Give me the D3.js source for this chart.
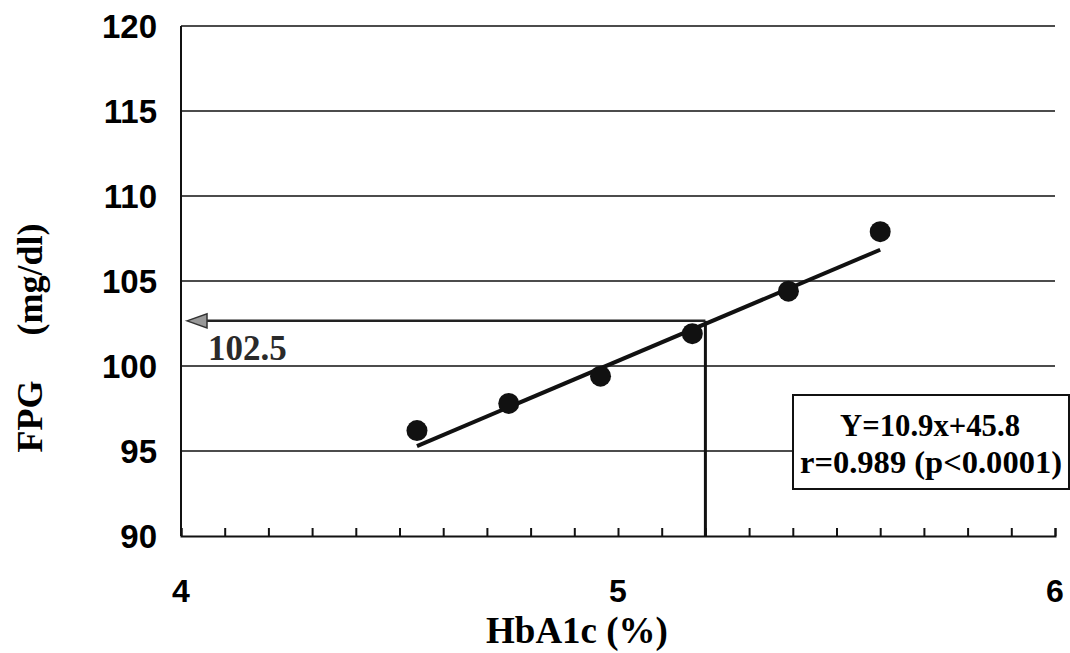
<!DOCTYPE html>
<html>
<head>
<meta charset="utf-8">
<script src="https://cdn.jsdelivr.net/npm/d3@7"></script>
<style>
body{margin:0;background:#fff;}
svg{display:block;}
</style>
</head>
<body>
<div class="chart"></div>
<script>
// data
const hba1c = [4.54, 4.75, 4.96, 5.17, 5.39, 5.60];
const fpg = [96.2, 97.8, 99.4, 101.9, 104.4, 107.9];
const yTicks = [90, 95, 100, 105, 110, 115, 120];
const xTicks = [4, 5, 6];
const fitSlope = 10.9;
const fitIntercept = 45.8;
const fitRange = [4.54, 5.60];
const readX = 5.2;
const readLabel = '102.5';
const boxLines = ['Y=10.9x+45.8', 'r=0.989 (p<0.0001)'];

const width = 1070, height = 653;
const margin = {top:26, right:15, bottom:117, left:181};

const svg = d3.select('.chart').append('svg')
    .attr('width', width).attr('height', height);

const xScale = d3.scaleLinear([4, 6], [margin.left, width - margin.right]);
const yScale = d3.scaleLinear([90, 120], [height - margin.bottom, margin.top]);

// gridlines
svg.append('g').selectAll('line').data(yTicks.filter(d => d > 90)).join('line')
    .attr('x1', xScale(4)).attr('x2', xScale(6))
    .attr('y1', d => yScale(d)).attr('y2', d => yScale(d))
    .attr('stroke', '#111').attr('stroke-width', 1.5);

// left axis line
svg.append('line')
    .attr('x1', xScale(4)).attr('x2', xScale(4))
    .attr('y1', yScale(90)).attr('y2', yScale(120))
    .attr('stroke', '#111').attr('stroke-width', 2);

// bottom axis with minor ticks
const xAxis = d3.axisBottom(xScale).tickValues(d3.range(40, 61).map(d => d / 10))
    .tickSize(-8).tickFormat('');
const xAxisDraw = svg.append('g').attr('transform', `translate(0,${yScale(90)})`).call(xAxis);
xAxisDraw.select('.domain').attr('stroke', '#111').attr('stroke-width', 2);
xAxisDraw.selectAll('.tick line').attr('stroke', '#111').attr('stroke-width', 2);

// y tick labels
svg.append('g').selectAll('text').data(yTicks).join('text')
    .attr('x', 157).attr('y', d => yScale(d))
    .attr('dy', '0.36em').attr('text-anchor', 'end')
    .style('font-family', 'Liberation Sans, Arial, sans-serif')
    .style('font-weight', 'bold').style('font-size', '33px')
    .text(d => d);

// x tick labels
svg.append('g').selectAll('text').data(xTicks).join('text')
    .attr('x', d => xScale(d)).attr('y', 590)
    .attr('dy', '0.36em').attr('text-anchor', 'middle')
    .style('font-family', 'Liberation Sans, Arial, sans-serif')
    .style('font-weight', 'bold').style('font-size', '32px')
    .text(d => d);

// axis titles
svg.append('text').attr('x', 577).attr('y', 643)
    .attr('text-anchor', 'middle')
    .style('font-family', 'Liberation Serif, Times New Roman, serif')
    .style('font-weight', 'bold').style('font-size', '37px')
    .text('HbA1c (%)');

svg.append('text')
    .attr('transform', `translate(42,338) rotate(-90)`)
    .attr('text-anchor', 'middle')
    .style('font-family', 'Liberation Serif, Times New Roman, serif')
    .style('font-weight', 'bold').style('font-size', '36px')
    .style('white-space', 'pre')
    .text('FPG     (mg/dl)');

// reading lines
const readY = fitSlope * readX + fitIntercept;
svg.append('line')
    .attr('x1', xScale(readX)).attr('x2', xScale(readX))
    .attr('y1', yScale(readY) - 3).attr('y2', yScale(90))
    .attr('stroke', '#111').attr('stroke-width', 3);
svg.append('line')
    .attr('x1', xScale(4) + 24).attr('x2', xScale(readX))
    .attr('y1', yScale(readY) - 3).attr('y2', yScale(readY) - 3)
    .attr('stroke', '#222').attr('stroke-width', 2.5);
const ax = xScale(4) + 6, ay = yScale(readY) - 3;
svg.append('path')
    .attr('d', `M${ax},${ay} L${ax + 20},${ay - 7} L${ax + 20},${ay + 7} Z`)
    .attr('fill', '#999').attr('stroke', '#333').attr('stroke-width', 1.5);
svg.append('text').attr('x', 208).attr('y', 360)
    .style('font-family', 'Liberation Serif, Times New Roman, serif')
    .style('font-weight', 'bold').style('font-size', '35px').style('fill', '#2a2a2a')
    .text(readLabel);

// regression line
svg.append('line')
    .attr('x1', xScale(fitRange[0])).attr('y1', yScale(fitSlope * fitRange[0] + fitIntercept))
    .attr('x2', xScale(fitRange[1])).attr('y2', yScale(fitSlope * fitRange[1] + fitIntercept))
    .attr('stroke', '#111').attr('stroke-width', 4);

// points
svg.append('g').selectAll('circle').data(hba1c).join('circle')
    .attr('cx', d => xScale(d)).attr('cy', (d, i) => yScale(fpg[i]))
    .attr('r', 10.5).attr('fill', '#111');

// equation box
const boxLayout = [{cx:930, y:436, w:180}, {cx:931, y:473, w:262}];
const box = svg.append('g');
box.append('rect').attr('x', 793).attr('y', 395).attr('width', 276).attr('height', 94)
    .attr('fill', '#fff').attr('stroke', '#111').attr('stroke-width', 2);
box.selectAll('text').data(boxLines).join('text')
    .attr('x', (d, i) => boxLayout[i].cx).attr('y', (d, i) => boxLayout[i].y)
    .attr('text-anchor', 'middle')
    .attr('textLength', (d, i) => boxLayout[i].w).attr('lengthAdjust', 'spacingAndGlyphs')
    .style('font-family', 'Liberation Serif, Times New Roman, serif')
    .style('font-weight', 'bold').style('font-size', '31px')
    .text(d => d);
</script>
</body>
</html>
